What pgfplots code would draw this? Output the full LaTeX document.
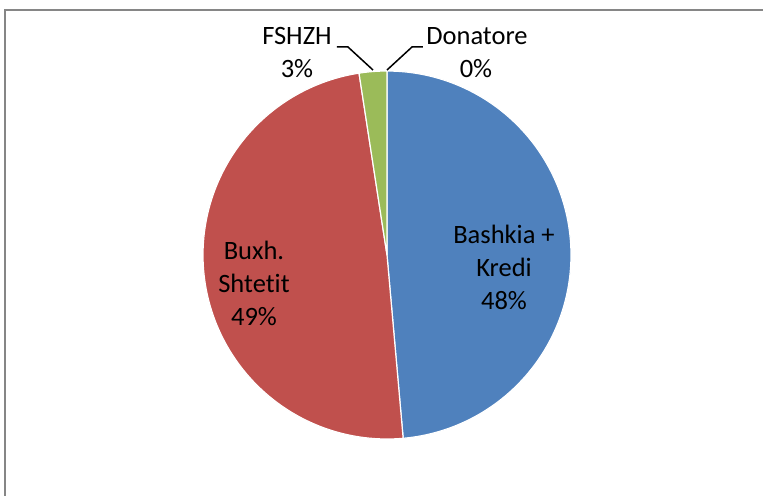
\documentclass[border=0pt]{standalone}
\usepackage{pgfplots}
\pgfplotsset{compat=1.18}
\usepgfplotslibrary{polar}
\usepackage{fontspec}
\setmainfont{Carlito}[Ligatures=NoCommon]
\definecolor{sBlue}{HTML}{4F81BD}
\definecolor{sRed}{HTML}{C0504D}
\definecolor{sGreen}{HTML}{9BBB59}
\definecolor{sPurple}{HTML}{8064A2}
\definecolor{frameGray}{HTML}{868686}
% shares in percent
\def\vA{48.60}% Bashkia + Kredi
\def\vB{48.97}% Buxh. Shtetit
\def\vC{2.43}%  FSHZH
\def\vD{0.00}%  Donatore
\begin{document}
\begin{tikzpicture}
\useasboundingbox (0,0) rectangle (381.5bp,-248bp);
\fill[white] (0,0) rectangle (381.5bp,-248bp);
\pgfmathsetmacro{\aA}{90}
\pgfmathsetmacro{\aB}{\aA-3.6*\vA}
\pgfmathsetmacro{\aC}{\aB-3.6*\vB}
\pgfmathsetmacro{\aD}{\aC-3.6*\vC}
\begin{polaraxis}[
  at={(193.5bp,-127.5bp)}, anchor=center,
  scale only axis, width=184bp, height=184bp,
  ymin=0, ymax=1, hide axis, clip=false,
]
\addplot[fill=sBlue, draw=white, line width=0.6bp, domain=\aB:\aA, samples=120] {1} -- (axis cs:0,0) -- cycle;
\addplot[fill=sRed, draw=white, line width=0.6bp, domain=\aC:\aB, samples=120] {1} -- (axis cs:0,0) -- cycle;
\addplot[fill=sGreen, draw=white, line width=0.6bp, domain=\aD:\aC, samples=20] {1} -- (axis cs:0,0) -- cycle;
\end{polaraxis}
\begin{scope}[x=0.5bp,y=-0.5bp]
\draw[frameGray, line width=1bp] (770,10.5) -- (5.5,10.5) -- (5.5,505);
\draw[black, line width=0.75bp] (337,47) -- (348,47) -- (373,70);
\draw[black, line width=0.75bp] (387,70) -- (412,47) -- (423,47);
\begin{scope}[every node/.style={anchor=base, inner sep=0pt, font=\fontsize{13.25bp}{16.5bp}\selectfont}]
\node at (504,244) {Bashkia +};
\node at (504,277) {Kredi};
\node at (504,310) {48\%};
\node at (254,260) {Buxh.};
\node at (254,293) {Shtetit};
\node at (254,326) {49\%};
\node at (297,44) {FSHZH};
\node at (297,78) {3\%};
\node at (477,44) {Donatore};
\node at (476,78) {0\%};
\end{scope}
\end{scope}
\end{tikzpicture}
\end{document}
